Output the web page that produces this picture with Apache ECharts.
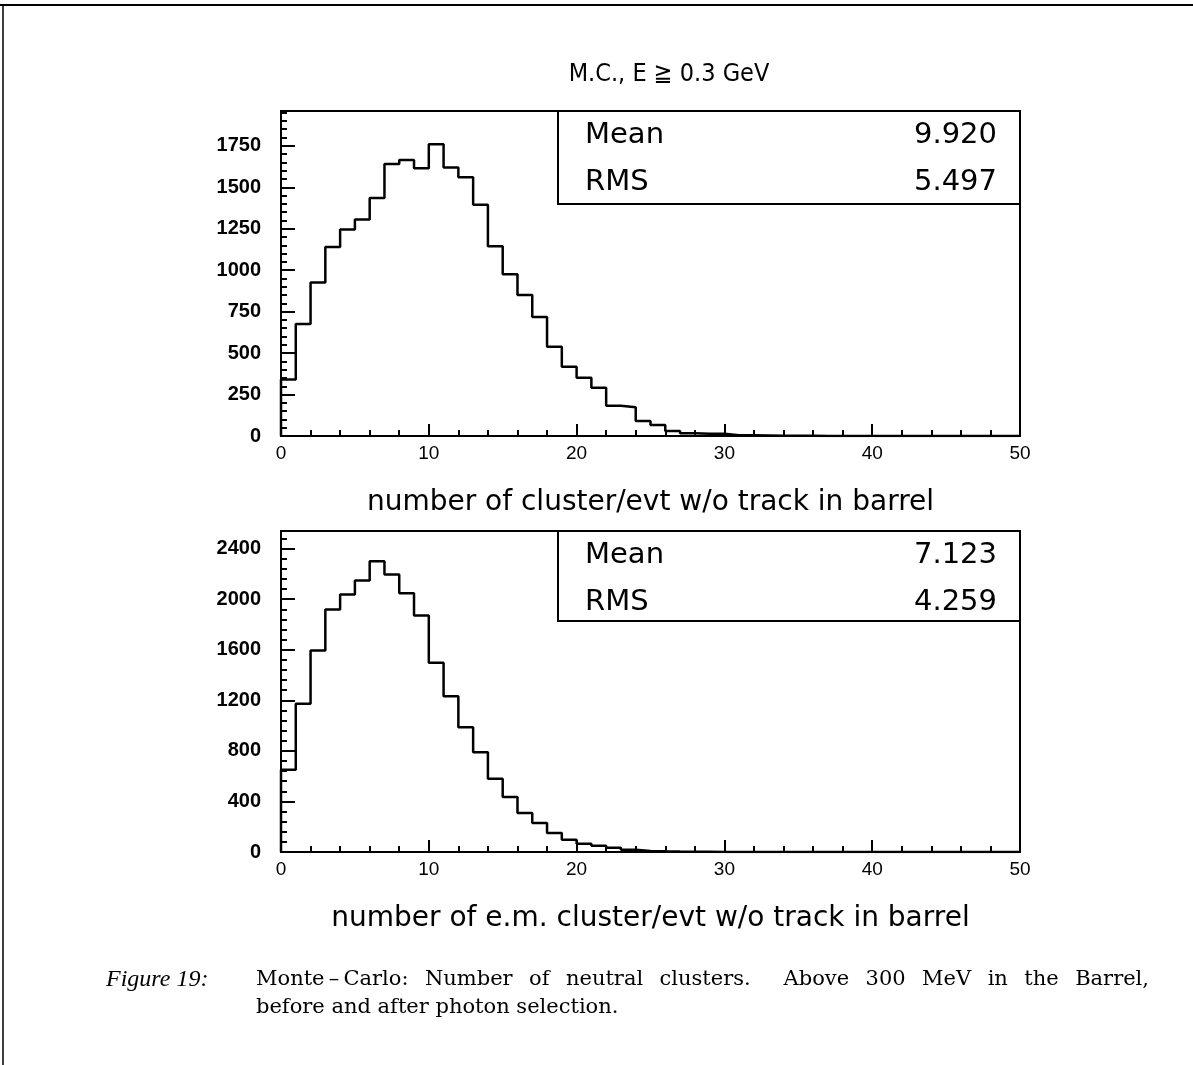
<!DOCTYPE html>
<html>
<head>
<meta charset="utf-8">
<script src="https://cdn.jsdelivr.net/npm/echarts@6/dist/echarts.min.js"></script>
<style>
html,body{margin:0;padding:0;background:#fff;}
#chart{width:1193px;height:1065px;}
</style>
</head>
<body>
<div id="chart"></div>
<script>
// ---- data (bins of width 1 from 0 to 50) ----
const binsTop = [340, 675, 925, 1140, 1245, 1305, 1435, 1640, 1665, 1615,
                 1760, 1620, 1560, 1395, 1145, 975, 850, 718, 539, 417,
                 352, 291, 183, 173, 91, 67, 30, 16, 14, 14,
                 5, 4, 3, 2, 1, 1, 0, 0, 0, 0,
                 0, 0, 0, 0, 0, 0, 0, 0, 0, 0];
const binsBottom = [650, 1173, 1594, 1918, 2037, 2148, 2300, 2195, 2047, 1871,
                    1497, 1233, 988, 790, 580, 435, 308, 229, 150, 97,
                    66, 50, 34, 18, 8, 5, 3, 2, 1, 0,
                    0, 0, 0, 0, 0, 0, 0, 0, 0, 0,
                    0, 0, 0, 0, 0, 0, 0, 0, 0, 0];
const statsTop = ['9.920', '5.497'];
const statsBottom = ['7.123', '4.259'];
const statLabels = ['Mean', 'RMS'];
const plotTitle = 'M.C., E \u2267 0.3 GeV';
const xTitleTop = 'number of cluster/evt w/o track in barrel';
const xTitleBottom = 'number of e.m. cluster/evt w/o track in barrel';
const captionLabel = 'Figure 19:';
const captionLines = ['Monte\u2009\u2013\u2009Carlo: Number of neutral clusters.  Above 300 MeV in the Barrel,',
                      'before and after photon selection.'];
const xRange = [0, 50];
const yMaxTop = 1960, yStepTop = 250, yMinorTop = 50;
const yMaxBottom = 2540, yStepBottom = 400, yMinorBottom = 80;

function stepPoints(bins) {
  const pts = [[0, 0]];
  bins.forEach((v, k) => pts.push([k, v]));
  pts.push([bins.length, bins[bins.length - 1]]);
  return pts;
}

const chart = echarts.init(document.getElementById('chart'), null, {renderer: 'canvas'});
const black = '#000';
const labelFont = 'Liberation Sans';
const geoFont = 'DejaVu Sans';
const captionFont = '21px "DejaVu Serif"';

function xAxisCfg(grid, name) {
  return {
    gridIndex: grid, type: 'value', min: xRange[0], max: xRange[1], interval: 10,
    axisLine: {show: true, onZero: false, lineStyle: {color: black, width: 2}},
    axisTick: {show: true, inside: true, length: 12, lineStyle: {color: black, width: 2}},
    minorTick: {show: true, splitNumber: 5, length: 6, lineStyle: {color: black, width: 2}},
    splitLine: {show: false},
    axisLabel: {color: black, fontSize: 19, fontFamily: labelFont, margin: 8},
    name: name, nameLocation: 'middle', nameGap: 53,
    nameTextStyle: {color: black, fontSize: 28, fontFamily: geoFont}
  };
}
function yMajorCfg(grid, max, step) {
  return {
    gridIndex: grid, type: 'value', position: 'left', min: 0, max: max, interval: step,
    axisLine: {show: true, lineStyle: {color: black, width: 2}},
    axisTick: {show: true, inside: true, length: 14, lineStyle: {color: black, width: 2}},
    splitLine: {show: false},
    axisLabel: {color: black, fontSize: 20, fontWeight: 'bold', fontFamily: labelFont, margin: 20,
                showMaxLabel: false,
                formatter: v => (v % step === 0 ? String(v) : '')}
  };
}
function yMinorCfg(grid, max, step) {
  return {
    gridIndex: grid, type: 'value', position: 'left', offset: 0, min: 0, max: max, interval: step,
    axisLine: {show: false},
    axisTick: {show: true, inside: true, length: 6, lineStyle: {color: black, width: 2}},
    splitLine: {show: false},
    axisLabel: {show: false}
  };
}

function statsBox(y, h, vals) {
  const f = '29px "' + geoFont + '"';
  return {
    type: 'group', children: [
      {type: 'rect', shape: {x: 558, y: y, width: 462, height: h},
       style: {fill: '#fff', stroke: black, lineWidth: 2}, z: 10},
      {type: 'text', x: 585, y: y + 24, z: 11,
       style: {text: statLabels[0], fill: black, font: f, textVerticalAlign: 'middle'}},
      {type: 'text', x: 585, y: y + 71, z: 11,
       style: {text: statLabels[1], fill: black, font: f, textVerticalAlign: 'middle'}},
      {type: 'text', x: 997, y: y + 24, z: 11,
       style: {text: vals[0], fill: black, font: f, textAlign: 'right', textVerticalAlign: 'middle'}},
      {type: 'text', x: 997, y: y + 71, z: 11,
       style: {text: vals[1], fill: black, font: f, textAlign: 'right', textVerticalAlign: 'middle'}}
    ]
  };
}

// justified caption line (text spread between two x positions)
function justifiedLine(line, x0, x1, y, font) {
  const ctx = document.createElement('canvas').getContext('2d');
  ctx.font = font;
  const parts = [];
  let pending = 0, gapCount = 0;
  line.split(' ').forEach(t => {
    if (t === '') { pending++; return; }
    if (parts.length) pending++;
    parts.push({t: t, gaps: pending});
    gapCount += pending;
    pending = 0;
  });
  const total = parts.reduce((s, p) => s + ctx.measureText(p.t).width, 0);
  const unit = gapCount ? (x1 - x0 - total) / gapCount : 0;
  let x = x0;
  return parts.map(p => {
    x += p.gaps * unit;
    const el = {type: 'text', x: x, y: y,
      style: {text: p.t, fill: black, font: font, textVerticalAlign: 'middle'}};
    x += ctx.measureText(p.t).width;
    return el;
  });
}

const option = {
  animation: false,
  backgroundColor: '#fff',
  grid: [
    {left: 281, top: 111, width: 739, height: 325, show: true, borderColor: black, borderWidth: 2, backgroundColor: 'transparent'},
    {left: 281, top: 531, width: 739, height: 321, show: true, borderColor: black, borderWidth: 2, backgroundColor: 'transparent'}
  ],
  xAxis: [xAxisCfg(0, xTitleTop), xAxisCfg(1, xTitleBottom)],
  yAxis: [
    yMajorCfg(0, yMaxTop, yStepTop), yMinorCfg(0, yMaxTop, yMinorTop),
    yMajorCfg(1, yMaxBottom, yStepBottom), yMinorCfg(1, yMaxBottom, yMinorBottom)
  ],
  series: [
    {type: 'line', xAxisIndex: 0, yAxisIndex: 0, step: 'end', symbol: 'none',
     lineStyle: {color: black, width: 2.5}, data: stepPoints(binsTop), z: 3},
    {type: 'line', xAxisIndex: 1, yAxisIndex: 2, step: 'end', symbol: 'none',
     lineStyle: {color: black, width: 2.5}, data: stepPoints(binsBottom), z: 3}
  ],
  graphic: [
    {type: 'line', shape: {x1: 0, y1: 5, x2: 1193, y2: 5}, style: {stroke: black, lineWidth: 2}},
    {type: 'line', shape: {x1: 3, y1: 5, x2: 3, y2: 1065}, style: {stroke: black, lineWidth: 1.5}},
    {type: 'text', x: 669, y: 74,
     style: {text: plotTitle, fill: black, font: '25px "DejaVu Sans Condensed", "DejaVu Sans"', textAlign: 'center', textVerticalAlign: 'middle'}},
    statsBox(111, 93, statsTop),
    statsBox(531, 90, statsBottom),
    {type: 'text', x: 106, y: 980,
     style: {text: captionLabel, fill: black, font: 'italic 24px "Liberation Serif"', textVerticalAlign: 'middle'}}
  ].concat(justifiedLine(captionLines[0], 256, 1149, 980, captionFont))
   .concat([{type: 'text', x: 256, y: 1008,
     style: {text: captionLines[1], fill: black, font: captionFont, textVerticalAlign: 'middle'}}])
};
chart.setOption(option);
</script>
</body>
</html>
